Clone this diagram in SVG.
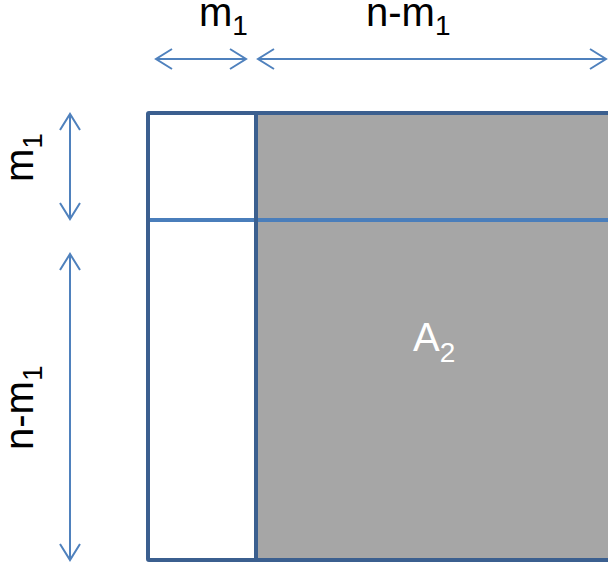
<svg xmlns="http://www.w3.org/2000/svg" width="608" height="565" viewBox="0 0 608 565">
<defs>
<style>
.lbl{font-family:"Liberation Sans","Open Sans",sans-serif;font-size:40px;fill:#000}
.sub{font-size:28px}
.dim{stroke:#4f81bd;stroke-width:2;fill:none}
</style>
<marker id="ah" viewBox="-20 -12 24 24" markerWidth="24" markerHeight="24" refX="0" refY="0" orient="auto-start-reverse" markerUnits="userSpaceOnUse">
<path d="M-16,-10 L0,0 L-16,10" fill="none" stroke="#4f81bd" stroke-width="2"/>
</marker>
</defs>
<rect width="608" height="565" fill="#fff"/>
<g id="matrix">
<rect x="148" y="113" width="480" height="447" fill="#fff" stroke="none"/>
<rect x="256" y="113" width="372" height="447" fill="#a6a6a6"/>
<line x1="148" y1="220" x2="610" y2="220" stroke="#4a7ebb" stroke-width="4"/>
<line x1="256" y1="113" x2="256" y2="560" stroke="#3b5f8f" stroke-width="4"/>
<rect x="148" y="113" width="480" height="447" fill="none" stroke="#3b5f8f" stroke-width="4" rx="1"/>
</g>
<g id="A2"><text class="lbl" x="413" y="351" style="fill:#fff">A<tspan class="sub" dy="11">2</tspan></text></g>
<g id="connectors">
<line class="dim" x1="156" y1="59" x2="246" y2="59" marker-start="url(#ah)" marker-end="url(#ah)"/>
<line class="dim" x1="258" y1="59" x2="606" y2="59" marker-start="url(#ah)" marker-end="url(#ah)"/>
<line class="dim" x1="70" y1="114" x2="70" y2="219" marker-start="url(#ah)" marker-end="url(#ah)"/>
<line class="dim" x1="70" y1="254" x2="70" y2="560" marker-start="url(#ah)" marker-end="url(#ah)"/>
</g>
<g id="label-top-m1"><text class="lbl" x="199" y="26">m<tspan class="sub" dy="9">1</tspan></text></g>
<g id="label-top-nm1"><text class="lbl" x="366" y="26">n-m<tspan class="sub" dy="9">1</tspan></text></g>
<g id="label-left-m1"><text class="lbl" transform="translate(33,182) rotate(-90)">m<tspan class="sub" dy="9">1</tspan></text></g>
<g id="label-left-nm1"><text class="lbl" transform="translate(33,450) rotate(-90)">n-m<tspan class="sub" dy="9">1</tspan></text></g>
</svg>
